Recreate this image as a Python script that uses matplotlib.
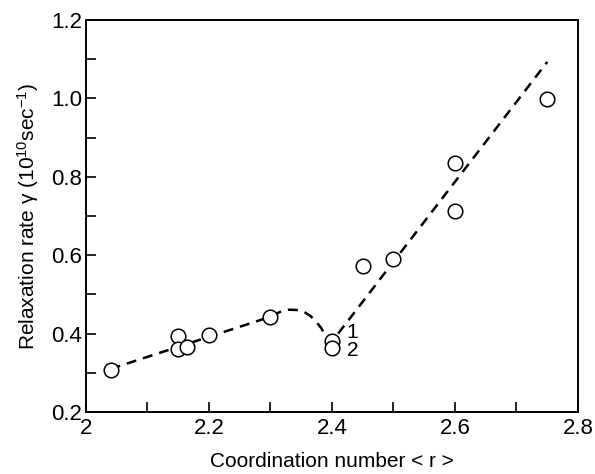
import matplotlib
matplotlib.use("Agg")
import matplotlib.pyplot as plt
from matplotlib.ticker import MultipleLocator

plt.rcParams['font.family'] = ['Liberation Sans', 'DejaVu Sans']
plt.rcParams['mathtext.fontset'] = 'custom'
plt.rcParams['mathtext.rm'] = 'Liberation Sans'

# data points
x_pts = [2.04, 2.15, 2.15, 2.165, 2.2, 2.3, 2.4, 2.4, 2.45, 2.5, 2.6, 2.6, 2.75]
y_pts = [0.308, 0.393, 0.360, 0.365, 0.396, 0.443, 0.380, 0.363, 0.573, 0.590, 0.835, 0.714, 0.998]

# dashed guide curve, left branch
guide1_x = [2.04, 2.30, 2.315, 2.33, 2.345, 2.355, 2.365, 2.375, 2.383, 2.388]
guide1_y = [0.310, 0.443, 0.455, 0.461, 0.460, 0.455, 0.445, 0.429, 0.413, 0.398]
# dashed guide line, right branch
guide2_x = [2.41, 2.75]
guide2_y = [0.400, 1.093]

# annotations
ann_labels = ['1', '2']
ann_x = [2.433, 2.433]
ann_y = [0.404, 0.356]

fig = plt.figure(figsize=(5.95, 4.74), dpi=100)
ax = fig.add_axes([0.1445, 0.1308, 0.8269, 0.827])

ax.plot(guide1_x, guide1_y, color='black', lw=1.8, dashes=(4, 2.8), zorder=2)
ax.plot(guide2_x, guide2_y, color='black', lw=1.8, dashes=(4, 2.8), zorder=2)
ax.plot(x_pts, y_pts, linestyle='none', marker='o', markersize=10.5,
        markerfacecolor='white', markeredgecolor='black', markeredgewidth=1.1, zorder=3)

for t, xx, yy in zip(ann_labels, ann_x, ann_y):
    ax.text(xx, yy, t, fontsize=15, ha='center', va='center')

ax.set_xlim(2.0, 2.8)
ax.set_ylim(0.2, 1.2)
ax.xaxis.set_major_locator(MultipleLocator(0.2))
ax.xaxis.set_minor_locator(MultipleLocator(0.1))
ax.yaxis.set_major_locator(MultipleLocator(0.2))
ax.yaxis.set_minor_locator(MultipleLocator(0.1))
ax.set_xticks([2.0, 2.2, 2.4, 2.6, 2.8])
ax.set_xticklabels(['2', '2.2', '2.4', '2.6', '2.8'])
ax.set_yticks([0.2, 0.4, 0.6, 0.8, 1.0, 1.2])
ax.set_yticklabels(['0.2', '0.4', '0.6', '0.8', '1.0', '1.2'])

ax.tick_params(which='both', direction='in', length=7, width=1.2,
               top=False, right=False, labelsize=16)
ax.tick_params(axis='x', pad=4)
ax.tick_params(axis='y', pad=3)
for s in ax.spines.values():
    s.set_linewidth(1.4)

ax.set_xlabel('Coordination number < r >', fontsize=15, labelpad=10)
ax.set_ylabel(r'Relaxation rate γ (10$\mathregular{^{10}}$sec$\mathregular{^{-1}}$)',
              fontsize=15, labelpad=7)

fig.savefig('out.png', dpi=100)
